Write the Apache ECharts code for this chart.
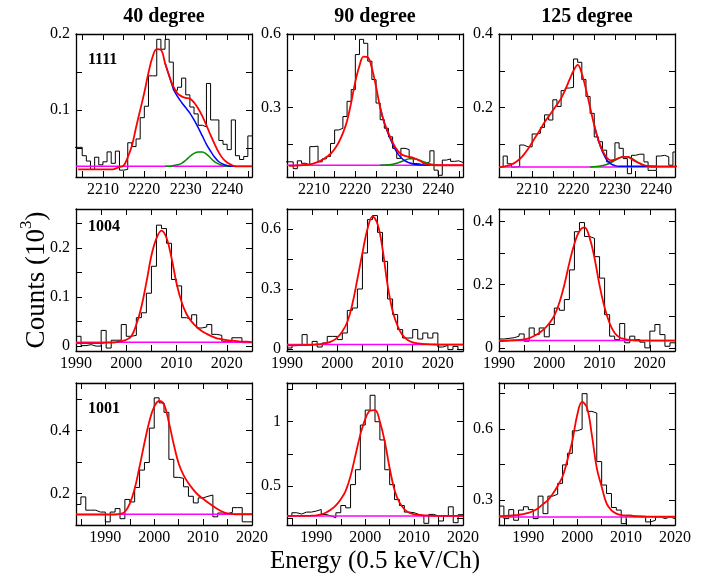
<!DOCTYPE html>
<html>
<head>
<meta charset="utf-8">
<script src="https://cdn.jsdelivr.net/npm/echarts@6.0.0/dist/echarts.min.js"></script>
<style>
html, body { margin: 0; padding: 0; background: #fff; }
#main { width: 709px; height: 576px; }
</style>
</head>
<body>
<div id="main"></div>
<script>
// columns: 40 / 90 / 125 degree, rows: 1111 / 1004 / 1001
var colTitles = ['40 degree', '90 degree', '125 degree']
var rowLabels = ['1111', '1004', '1001']

// axis ranges, one entry per panel (row by row)
var xMin = [2203.5, 2203.5, 2202, 1990, 1990, 1990, 1984, 1984, 1984]
var xMax = [2246, 2246, 2244.5, 2025, 2025, 2025, 2020, 2020, 2020]
var yMin = [0.012, 0.016, 0.011, -0.01, -0.01, -0.01, 0.1, 0.2, 0.195]
var yMax = [0.2, 0.6, 0.4, 0.28, 0.7, 0.44, 0.55, 1.3, 0.795]

// tick labels
var xLabelVals = [[2210, 2220, 2230, 2240], [1990, 2000, 2010, 2020], [1990, 2000, 2010, 2020]]
var xTickVals = [[2205, 2210, 2215, 2220, 2225, 2230, 2235, 2240, 2245],
    [1995, 2000, 2005, 2010, 2015, 2020],
    [1985, 1990, 1995, 2000, 2005, 2010, 2015]]
var yLabelVals = [[0.1, 0.2], [0.3, 0.6], [0.2, 0.4],
    [0, 0.1, 0.2], [0, 0.3, 0.6], [0, 0.2, 0.4],
    [0.2, 0.4], [0.5, 1], [0.3, 0.6]]
var yTickVals = [[0.05, 0.1, 0.15, 0.2], [0.15, 0.3, 0.45, 0.6], [0.1, 0.2, 0.3, 0.4],
    [0, 0.05, 0.1, 0.15, 0.2, 0.25], [0, 0.15, 0.3, 0.45, 0.6], [0, 0.1, 0.2, 0.3, 0.4],
    [0.2, 0.3, 0.4, 0.5], [0.25, 0.5, 0.75, 1, 1.25], [0.3, 0.45, 0.6, 0.75]]

// histograms: first bin left edge, bin width 1 channel
var histFrom = [2203, 2203, 2202, 1990, 1990, 1990, 1984, 1984, 1984]
var hist1111_40 = [0.051, 0.051, 0.04, 0.033, 0.022, 0.038, 0.028, 0.032, 0.045, 0.03, 0.046, 0.021, 0.022, 0.057, 0.052, 0.062, 0.09, 0.105, 0.145, 0.145, 0.193, 0.18, 0.193, 0.163, 0.126, 0.13, 0.142, 0.12, 0.104, 0.095, 0.08, 0.078, 0.135, 0.087, 0.087, 0.06, 0.055, 0.048, 0.087, 0.04, 0.035, 0.039, 0.066]
var hist1111_90 = [0.078, 0.078, 0.05, 0.082, 0.072, 0.065, 0.14, 0.142, 0.078, 0.09, 0.1, 0.153, 0.208, 0.215, 0.263, 0.325, 0.373, 0.516, 0.578, 0.562, 0.489, 0.414, 0.318, 0.25, 0.215, 0.18, 0.133, 0.092, 0.133, 0.128, 0.092, 0.071, 0.068, 0.071, 0.078, 0.123, 0.044, 0.023, 0.085, 0.09, 0.08, 0.082, 0.075]
var hist1111_125 = [0.038, 0.068, 0.047, 0.038, 0.04, 0.098, 0.093, 0.093, 0.128, 0.13, 0.146, 0.18, 0.166, 0.221, 0.203, 0.246, 0.253, 0.255, 0.332, 0.323, 0.276, 0.23, 0.184, 0.12, 0.107, 0.084, 0.052, 0.057, 0.104, 0.089, 0.061, 0.02, 0.07, 0.073, 0.073, 0.052, 0.029, 0.029, 0.068, 0.07, 0.066, 0.043, 0.079]
var hist1004_40 = [0.02, 0.001, 0.003, 0, 0, 0.032, -0.004, 0.012, 0.012, 0.044, 0.02, 0.022, 0.058, 0.068, 0.108, 0.163, 0.247, 0.24, 0.21, 0.136, 0.123, 0.058, 0.054, 0.064, 0.037, 0.039, 0.044, 0.024, 0.022, 0.01, 0.01, 0.017, 0.017, 0.007, 0.007]
var hist1004_90 = [0.005, 0.017, 0.02, 0.072, 0.02, 0.038, 0.01, 0.03, 0.063, 0.063, 0.047, 0.08, 0.193, 0.205, 0.3, 0.48, 0.647, 0.667, 0.583, 0.438, 0.25, 0.172, 0.097, 0.055, 0.055, 0.097, 0.05, 0.08, 0.055, 0.08, 0.01, 0.018, -0.003, 0.013, -0.003]
var hist1004_125 = [0.028, 0.03, 0.032, 0.037, 0.044, 0.021, 0.063, 0.042, 0.063, 0.035, 0.074, 0.126, 0.119, 0.153, 0.247, 0.368, 0.397, 0.353, 0.347, 0.289, 0.221, 0.105, 0.037, 0.026, 0.077, 0.016, 0.037, 0.026, 0.018, 0, 0.053, 0.074, 0.042, 0.005, 0.016]
var hist1001_40 = [0.165, 0.189, 0.147, 0.147, 0.141, 0.141, 0.11, 0.141, 0.152, 0.12, 0.181, 0.173, 0.219, 0.274, 0.298, 0.407, 0.503, 0.487, 0.457, 0.308, 0.251, 0.248, 0.221, 0.191, 0.17, 0.186, 0.191, 0.195, 0.126, 0.138, 0.136, 0.14, 0.155, 0.155, 0.11, 0.11]
var hist1001_90 = [0.27, 0.295, 0.285, 0.3, 0.3, 0.308, 0.32, 0.282, 0.27, 0.256, 0.295, 0.351, 0.333, 0.513, 0.628, 0.974, 1.09, 1.205, 1.0, 0.859, 0.628, 0.513, 0.397, 0.351, 0.3, 0.295, 0.282, 0.27, 0.213, 0.282, 0.27, 0.231, 0.27, 0.341, 0.218, 0.28]
var hist1001_125 = [0.275, 0.222, 0.26, 0.215, 0.258, 0.272, 0.26, 0.222, 0.317, 0.243, 0.317, 0.325, 0.371, 0.449, 0.498, 0.593, 0.6, 0.75, 0.675, 0.668, 0.463, 0.364, 0.328, 0.269, 0.258, 0.201, 0.236, 0.232, 0.232, 0.232, 0.208, 0.215, 0.229, 0.222, 0.229, 0.222]

// total fit (red), one value per channel from fitFrom
var fitFrom = [2204, 2204, 2202, 1990, 1990, 1990, 1984, 1984, 1984]
var fit1111_40 = [0.022, 0.022, 0.022, 0.022, 0.022, 0.022, 0.022, 0.022, 0.022, 0.023, 0.025, 0.027, 0.038, 0.053, 0.077, 0.1, 0.123, 0.149, 0.17, 0.18, 0.179, 0.162, 0.145, 0.131, 0.122, 0.118, 0.116, 0.115, 0.11, 0.102, 0.092, 0.08, 0.067, 0.055, 0.044, 0.036, 0.031, 0.028, 0.026, 0.026, 0.026, 0.026, 0.026]
var fit1111_90 = [0.062, 0.062, 0.063, 0.064, 0.065, 0.068, 0.072, 0.078, 0.086, 0.097, 0.11, 0.13, 0.158, 0.195, 0.245, 0.32, 0.405, 0.47, 0.508, 0.505, 0.46, 0.385, 0.3, 0.238, 0.195, 0.158, 0.128, 0.11, 0.102, 0.098, 0.094, 0.087, 0.078, 0.07, 0.066, 0.064, 0.064, 0.064, 0.064, 0.064, 0.064, 0.064, 0.064]
var fit1111_125 = [0.038, 0.039, 0.041, 0.045, 0.051, 0.06, 0.072, 0.087, 0.105, 0.123, 0.141, 0.16, 0.176, 0.192, 0.208, 0.225, 0.248, 0.275, 0.3, 0.316, 0.292, 0.25, 0.2, 0.152, 0.112, 0.083, 0.064, 0.056, 0.058, 0.063, 0.066, 0.066, 0.06, 0.053, 0.048, 0.043, 0.041, 0.04, 0.04, 0.04, 0.04, 0.04, 0.04, 0.04]
var fit1004_40 = [0.006, 0.006, 0.006, 0.006, 0.006, 0.006, 0.007, 0.007, 0.008, 0.01, 0.013, 0.02, 0.044, 0.08, 0.13, 0.185, 0.22, 0.236, 0.221, 0.18, 0.128, 0.09, 0.065, 0.05, 0.039, 0.031, 0.025, 0.02, 0.016, 0.014, 0.012, 0.011, 0.01, 0.009, 0.009, 0.008]
var fit1004_90 = [0.018, 0.018, 0.019, 0.019, 0.02, 0.021, 0.023, 0.026, 0.031, 0.04, 0.057, 0.088, 0.135, 0.225, 0.35, 0.48, 0.6, 0.662, 0.625, 0.5, 0.32, 0.19, 0.115, 0.068, 0.045, 0.033, 0.028, 0.025, 0.024, 0.023, 0.022, 0.022, 0.022, 0.022, 0.022, 0.022]
var fit1004_125 = [0.021, 0.022, 0.023, 0.024, 0.025, 0.027, 0.031, 0.038, 0.047, 0.06, 0.078, 0.102, 0.143, 0.2, 0.27, 0.33, 0.37, 0.382, 0.35, 0.284, 0.198, 0.128, 0.078, 0.047, 0.033, 0.028, 0.025, 0.024, 0.023, 0.023, 0.023, 0.023, 0.023, 0.023, 0.023, 0.023]
var fit1001_40 = [0.133, 0.133, 0.133, 0.133, 0.133, 0.133, 0.133, 0.133, 0.133, 0.135, 0.142, 0.168, 0.215, 0.285, 0.36, 0.428, 0.475, 0.493, 0.482, 0.425, 0.355, 0.295, 0.258, 0.232, 0.212, 0.195, 0.183, 0.171, 0.16, 0.15, 0.142, 0.137, 0.135, 0.134, 0.134, 0.134, 0.134]
var fit1001_90 = [0.27, 0.27, 0.27, 0.27, 0.27, 0.272, 0.275, 0.283, 0.297, 0.32, 0.352, 0.4, 0.465, 0.58, 0.74, 0.9, 1.02, 1.085, 1.09, 1.0, 0.846, 0.64, 0.47, 0.375, 0.322, 0.295, 0.283, 0.278, 0.275, 0.273, 0.271, 0.271, 0.271, 0.271, 0.271, 0.271, 0.271]
var fit1001_125 = [0.232, 0.233, 0.234, 0.236, 0.238, 0.241, 0.246, 0.254, 0.266, 0.283, 0.3, 0.327, 0.36, 0.4, 0.47, 0.55, 0.66, 0.715, 0.69, 0.575, 0.435, 0.357, 0.286, 0.257, 0.243, 0.237, 0.235, 0.234, 0.232, 0.231, 0.23, 0.23, 0.23, 0.23, 0.23, 0.23, 0.23]

// peak components for the 1111 state (blue main peak tail, green small peak)
var blueFrom = [2225, 2226, 2225]
var blue1111_40 = [0.162, 0.145, 0.128, 0.118, 0.11, 0.103, 0.096, 0.087, 0.077, 0.066, 0.055, 0.046, 0.038, 0.032, 0.029, 0.027, 0.026, 0.026]
var blue1111_90 = [0.3, 0.236, 0.19, 0.15, 0.118, 0.096, 0.082, 0.074, 0.069, 0.066, 0.065, 0.064, 0.064]
var blue1111_125 = [0.152, 0.11, 0.079, 0.058, 0.047, 0.042, 0.04, 0.04, 0.04, 0.04, 0.04, 0.04, 0.04, 0.04, 0.04, 0.04]
var greenFrom = [2225, 2226, 2224]
var green1111_40 = [0.026, 0.026, 0.027, 0.028, 0.03, 0.034, 0.039, 0.043, 0.045, 0.045, 0.042, 0.037, 0.032, 0.029, 0.027, 0.026, 0.026]
var green1111_90 = [0.064, 0.065, 0.066, 0.068, 0.072, 0.078, 0.085, 0.09, 0.091, 0.088, 0.082, 0.075, 0.069, 0.066, 0.064]
var green1111_125 = [0.038, 0.039, 0.04, 0.042, 0.045, 0.05, 0.056, 0.062, 0.066, 0.066, 0.062, 0.055, 0.048, 0.043, 0.04, 0.039, 0.039]

// flat background level (magenta)
var baseLevel = [0.026, 0.064, 0.038, 0.008, 0.022, 0.023, 0.134, 0.269, 0.229]

var histList = [hist1111_40, hist1111_90, hist1111_125, hist1004_40, hist1004_90, hist1004_125, hist1001_40, hist1001_90, hist1001_125]
var fitList = [fit1111_40, fit1111_90, fit1111_125, fit1004_40, fit1004_90, fit1004_125, fit1001_40, fit1001_90, fit1001_125]
var blueList = [blue1111_40, blue1111_90, blue1111_125]
var greenList = [green1111_40, green1111_90, green1111_125]

var gridLeft = [76, 287, 499]
var gridTop = [34, 209, 383]
var gridHeight = [143, 142, 142]
var serif = 'Liberation Serif'

function pairs (start, values) {
    var out = []
    for (var i = 0; i < values.length; i++) {
        out.push([start + i, values[i]])
    }
    return out
}

function histPairs (start, values) {
    var out = pairs(start, values)
    out.push([start + values.length, values[values.length - 1]])
    return out
}

// tick text as rich text so the serif face is used, no thousands separator
function plainLabel (v) {
    return '{t|' + String(Math.round(v * 1000) / 1000) + '}'
}
var tickRich = { t: { fontFamily: serif, fontSize: 16, color: '#000' } }

function lineSeries (p, data, color, width, z, smooth) {
    return {
        type: 'line',
        xAxisIndex: 2 * p,
        yAxisIndex: 2 * p,
        data: data,
        showSymbol: false,
        symbol: 'none',
        smooth: smooth || false,
        lineStyle: { color: color, width: width },
        z: z,
        silent: true,
        animation: false
    }
}

var grids = []
var xAxes = []
var yAxes = []
var series = []

for (var p = 0; p < 9; p++) {
    var row = Math.floor(p / 3)
    var col = p % 3
    grids.push({ left: gridLeft[col], top: gridTop[row], width: 176, height: gridHeight[row] })

    var axisLine = { show: true, onZero: false, lineStyle: { color: '#000', width: 1.3 } }
    var tickX = { show: true, inside: true, length: 6, customValues: xTickVals[row], lineStyle: { color: '#000', width: 1 } }
    var tickY = { show: true, inside: true, length: 6, customValues: yTickVals[p], lineStyle: { color: '#000', width: 1 } }

    xAxes.push({
        gridIndex: p, type: 'value', position: 'bottom', min: xMin[p], max: xMax[p],
        axisLine: axisLine, axisTick: tickX, splitLine: { show: false },
        axisLabel: { customValues: xLabelVals[row], formatter: plainLabel, rich: tickRich, margin: 5, color: '#000', fontFamily: serif, fontSize: 16 }
    })
    xAxes.push({
        gridIndex: p, type: 'value', position: 'top', min: xMin[p], max: xMax[p],
        axisLine: axisLine, axisTick: tickX, splitLine: { show: false }, axisLabel: { show: false }
    })
    yAxes.push({
        gridIndex: p, type: 'value', position: 'left', min: yMin[p], max: yMax[p],
        axisLine: axisLine, axisTick: tickY, splitLine: { show: false },
        axisLabel: { customValues: yLabelVals[p], formatter: plainLabel, rich: tickRich, margin: 6, color: '#000', fontFamily: serif, fontSize: 16 }
    })
    yAxes.push({
        gridIndex: p, type: 'value', position: 'right', min: yMin[p], max: yMax[p],
        axisLine: axisLine, axisTick: tickY, splitLine: { show: false }, axisLabel: { show: false }
    })

    var hs = lineSeries(p, histPairs(histFrom[p], histList[p]), '#000', 1, 2)
    hs.step = 'end'
    series.push(hs)
    series.push(lineSeries(p, [[xMin[p], baseLevel[p]], [xMax[p], baseLevel[p]]], '#ff00ff', 1.5, 3))
    if (row === 0) {
        series.push(lineSeries(p, pairs(greenFrom[col], greenList[col]), '#008c00', 1.5, 4, 0.4))
        series.push(lineSeries(p, pairs(blueFrom[col], blueList[col]), '#0000ff', 1.5, 5, 0.4))
    }
    series.push(lineSeries(p, pairs(fitFrom[p], fitList[p]), '#ff0000', 1.8, 6, 0.4))
}

var texts = []
for (var c = 0; c < 3; c++) {
    texts.push({
        type: 'text', x: gridLeft[c] + 88, y: 17,
        style: { text: colTitles[c], font: 'bold 20px "Liberation Serif"', fill: '#000', align: 'center', verticalAlign: 'middle' }
    })
}
var labelY = [60, 227, 409]
for (var r = 0; r < 3; r++) {
    texts.push({
        type: 'text', x: 88, y: labelY[r],
        style: { text: rowLabels[r], font: 'bold 16px "Liberation Serif"', fill: '#000', align: 'left', verticalAlign: 'middle' }
    })
}
texts.push({
    type: 'text', x: 375, y: 561,
    style: { text: 'Energy (0.5 keV/Ch)', font: '25px "Liberation Serif"', fill: '#000', align: 'center', verticalAlign: 'middle' }
})
texts.push({
    type: 'text', x: 34, y: 280, rotation: Math.PI / 2,
    style: {
        text: '{a|Counts (10}{b|3}{a|)}',
        align: 'center', verticalAlign: 'middle', fill: '#000',
        rich: {
            a: { fontFamily: serif, fontSize: 27, lineHeight: 32, fill: '#000', verticalAlign: 'bottom' },
            b: { fontFamily: serif, fontSize: 17, lineHeight: 32, fill: '#000', verticalAlign: 'top' }
        }
    }
})

var myChart = echarts.init(document.getElementById('main'), null, { renderer: 'canvas' })
myChart.setOption({
    animation: false,
    backgroundColor: '#fff',
    textStyle: { fontFamily: serif },
    grid: grids,
    xAxis: xAxes,
    yAxis: yAxes,
    series: series,
    graphic: texts
})
</script>
</body>
</html>
